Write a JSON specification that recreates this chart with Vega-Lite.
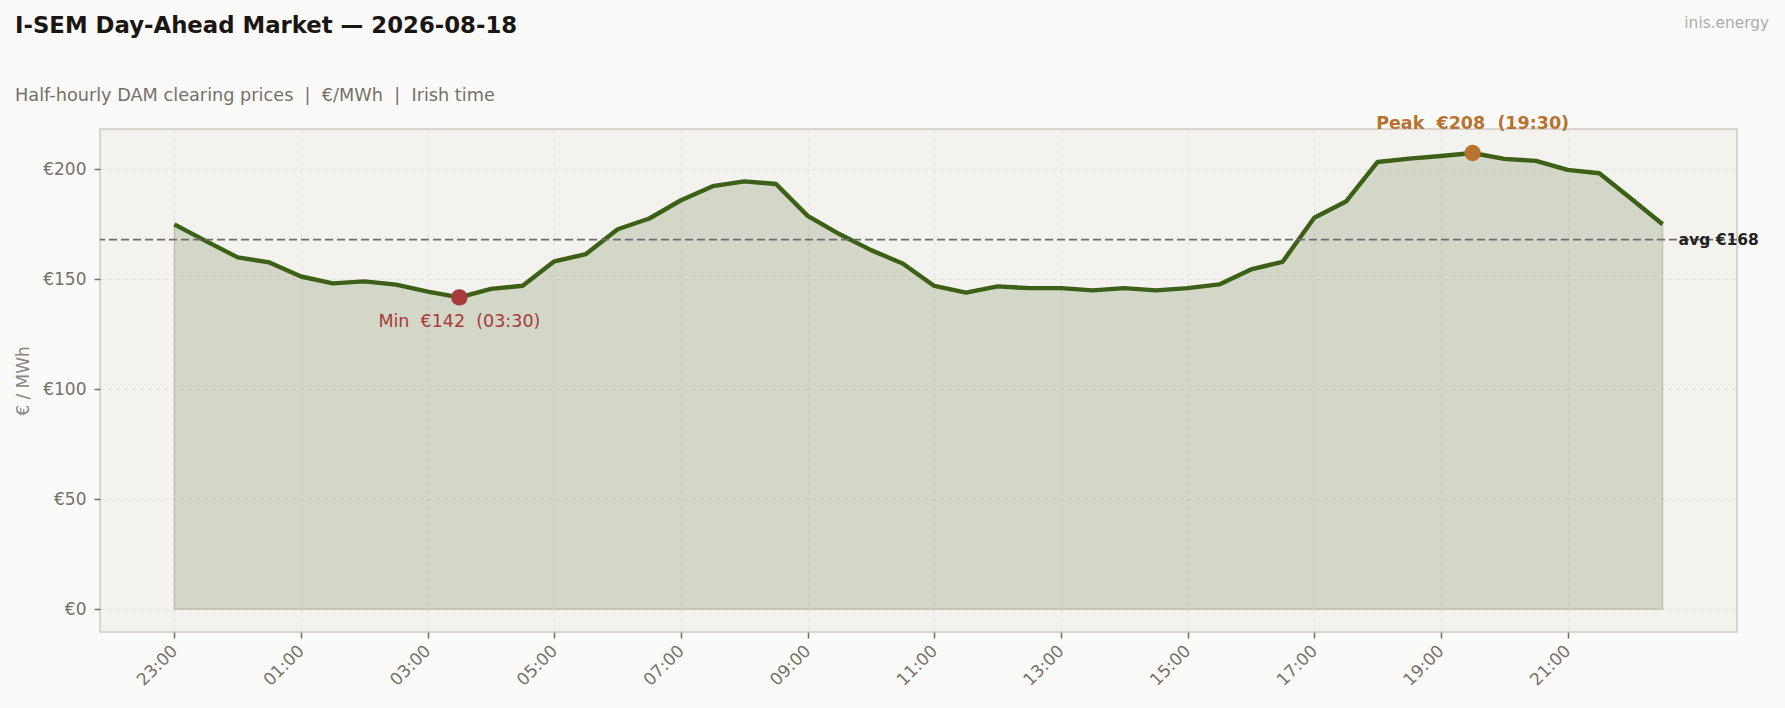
{
  "$schema": "https://vega.github.io/schema/vega-lite/v6.json",
  "autosize": {"type": "none"},
  "padding": {"left": 100, "top": 129, "right": 48, "bottom": 76},
  "width": 1637,
  "height": 503,
  "background": "#fafaf8",
  "title": {
    "text": "I-SEM Day-Ahead Market — 2026-08-18",
    "subtitle": "Half-hourly DAM clearing prices \u00a0| \u00a0€/MWh \u00a0| \u00a0Irish time",
    "anchor": "start",
    "frame": "group",
    "dx": -85,
    "offset": -89,
    "font": "DejaVu Sans",
    "fontSize": 22.8,
    "fontWeight": "bold",
    "color": "#1a1614",
    "subtitleFont": "DejaVu Sans",
    "subtitleFontSize": 17.7,
    "subtitleColor": "#77706a",
    "subtitlePadding": 49
  },
  "datasets": {
    "prices": [
      {"t": "2026-08-17T23:00:00", "price": 175.0},
      {"t": "2026-08-17T23:30:00", "price": 167.4},
      {"t": "2026-08-18T00:00:00", "price": 160.0},
      {"t": "2026-08-18T00:30:00", "price": 157.7},
      {"t": "2026-08-18T01:00:00", "price": 151.3},
      {"t": "2026-08-18T01:30:00", "price": 148.2},
      {"t": "2026-08-18T02:00:00", "price": 149.1},
      {"t": "2026-08-18T02:30:00", "price": 147.6},
      {"t": "2026-08-18T03:00:00", "price": 144.4},
      {"t": "2026-08-18T03:30:00", "price": 141.8},
      {"t": "2026-08-18T04:00:00", "price": 145.7},
      {"t": "2026-08-18T04:30:00", "price": 147.1},
      {"t": "2026-08-18T05:00:00", "price": 158.2},
      {"t": "2026-08-18T05:30:00", "price": 161.5},
      {"t": "2026-08-18T06:00:00", "price": 172.8},
      {"t": "2026-08-18T06:30:00", "price": 177.7},
      {"t": "2026-08-18T07:00:00", "price": 186.0},
      {"t": "2026-08-18T07:30:00", "price": 192.4},
      {"t": "2026-08-18T08:00:00", "price": 194.6},
      {"t": "2026-08-18T08:30:00", "price": 193.4},
      {"t": "2026-08-18T09:00:00", "price": 178.9},
      {"t": "2026-08-18T09:30:00", "price": 170.6},
      {"t": "2026-08-18T10:00:00", "price": 163.3},
      {"t": "2026-08-18T10:30:00", "price": 157.2},
      {"t": "2026-08-18T11:00:00", "price": 147.0},
      {"t": "2026-08-18T11:30:00", "price": 144.0},
      {"t": "2026-08-18T12:00:00", "price": 146.8},
      {"t": "2026-08-18T12:30:00", "price": 146.0},
      {"t": "2026-08-18T13:00:00", "price": 146.0},
      {"t": "2026-08-18T13:30:00", "price": 145.0},
      {"t": "2026-08-18T14:00:00", "price": 146.0},
      {"t": "2026-08-18T14:30:00", "price": 145.0},
      {"t": "2026-08-18T15:00:00", "price": 146.0},
      {"t": "2026-08-18T15:30:00", "price": 147.7},
      {"t": "2026-08-18T16:00:00", "price": 154.5},
      {"t": "2026-08-18T16:30:00", "price": 158.0},
      {"t": "2026-08-18T17:00:00", "price": 178.0},
      {"t": "2026-08-18T17:30:00", "price": 185.4},
      {"t": "2026-08-18T18:00:00", "price": 203.4},
      {"t": "2026-08-18T18:30:00", "price": 204.9},
      {"t": "2026-08-18T19:00:00", "price": 206.1},
      {"t": "2026-08-18T19:30:00", "price": 207.5},
      {"t": "2026-08-18T20:00:00", "price": 204.8},
      {"t": "2026-08-18T20:30:00", "price": 203.9},
      {"t": "2026-08-18T21:00:00", "price": 199.8},
      {"t": "2026-08-18T21:30:00", "price": 198.3},
      {"t": "2026-08-18T22:00:00", "price": 186.8},
      {"t": "2026-08-18T22:30:00", "price": 175.1}
    ],
    "extremes": [
      {"t": "2026-08-18T19:30:00", "price": 207.5, "kind": "peak", "label": "Peak \u00a0€208 \u00a0(19:30)"},
      {"t": "2026-08-18T03:30:00", "price": 141.8, "kind": "min", "label": "Min \u00a0€142 \u00a0(03:30)"}
    ]
  },
  "layer": [
    {
      "data": {"name": "prices"},
      "mark": {"type": "area", "color": "#3b6016", "fillOpacity": 0.18, "stroke": "#3b6016", "strokeOpacity": 0.2, "strokeWidth": 1.5},
      "encoding": {
        "x": {
          "field": "t",
          "type": "temporal",
          "title": null,
          "scale": {
            "domain": [
              {"year": 2026, "month": 8, "date": 17, "hours": 21, "minutes": 49, "seconds": 30},
              {"year": 2026, "month": 8, "date": 18, "hours": 23, "minutes": 40, "seconds": 30}
            ]
          },
          "axis": {
            "format": "%H:%M",
            "values": [
              {"year": 2026, "month": 8, "date": 17, "hours": 23},
              {"year": 2026, "month": 8, "date": 18, "hours": 1},
              {"year": 2026, "month": 8, "date": 18, "hours": 3},
              {"year": 2026, "month": 8, "date": 18, "hours": 5},
              {"year": 2026, "month": 8, "date": 18, "hours": 7},
              {"year": 2026, "month": 8, "date": 18, "hours": 9},
              {"year": 2026, "month": 8, "date": 18, "hours": 11},
              {"year": 2026, "month": 8, "date": 18, "hours": 13},
              {"year": 2026, "month": 8, "date": 18, "hours": 15},
              {"year": 2026, "month": 8, "date": 18, "hours": 17},
              {"year": 2026, "month": 8, "date": 18, "hours": 19},
              {"year": 2026, "month": 8, "date": 18, "hours": 21}
            ],
            "labelAngle": -45,
            "labelAlign": "right",
            "labelBaseline": "middle",
            "labelPadding": 10
          }
        },
        "y": {
          "field": "price",
          "type": "quantitative",
          "title": "€ / MWh",
          "scale": {"domain": [-10.4, 218.4], "nice": false, "zero": false},
          "axis": {
            "values": [0, 50, 100, 150, 200],
            "labelExpr": "'€' + datum.value",
            "labelPadding": 8,
            "titlePadding": 10
          }
        },
        "y2": {"datum": 0}
      }
    },
    {
      "data": {"name": "prices"},
      "mark": {"type": "line", "color": "#3b6016", "strokeWidth": 4.4, "strokeJoin": "round"},
      "encoding": {
        "x": {"field": "t", "type": "temporal"},
        "y": {"field": "price", "type": "quantitative"}
      }
    },
    {
      "data": {"name": "prices"},
      "mark": {"type": "rule", "color": "#6f6d6a", "strokeWidth": 1.8, "strokeDash": [8, 4]},
      "encoding": {
        "y": {"field": "price", "aggregate": "mean", "type": "quantitative"}
      }
    },
    {
      "data": {"name": "prices"},
      "transform": [
        {"aggregate": [{"op": "mean", "field": "price", "as": "avg"}]},
        {"calculate": "'avg €' + format(datum.avg, '.0f')", "as": "avgLabel"}
      ],
      "mark": {"type": "text", "align": "left", "baseline": "middle", "dx": 16, "font": "DejaVu Sans", "fontSize": 15.5, "fontWeight": "bold", "color": "#222222"},
      "encoding": {
        "x": {"datum": {"year": 2026, "month": 8, "date": 18, "hours": 22, "minutes": 30}, "type": "temporal"},
        "y": {"field": "avg", "type": "quantitative"},
        "text": {"field": "avgLabel"}
      }
    },
    {
      "data": {"name": "extremes"},
      "mark": {"type": "circle", "size": 270, "opacity": 1},
      "encoding": {
        "x": {"field": "t", "type": "temporal"},
        "y": {"field": "price", "type": "quantitative"},
        "color": {"field": "kind", "type": "nominal", "scale": {"domain": ["peak", "min"], "range": ["#b8722f", "#a83a3a"]}, "legend": null}
      }
    },
    {
      "data": {"name": "extremes"},
      "transform": [{"filter": "datum.kind === 'peak'"}],
      "mark": {"type": "text", "align": "center", "baseline": "middle", "dy": -29, "font": "DejaVu Sans", "fontSize": 17.5, "fontWeight": "bold", "color": "#b8722f"},
      "encoding": {
        "x": {"field": "t", "type": "temporal"},
        "y": {"field": "price", "type": "quantitative"},
        "text": {"field": "label"}
      }
    },
    {
      "data": {"name": "extremes"},
      "transform": [{"filter": "datum.kind === 'min'"}],
      "mark": {"type": "text", "align": "center", "baseline": "middle", "dy": 25, "font": "DejaVu Sans", "fontSize": 17.5, "color": "#a83a3a"},
      "encoding": {
        "x": {"field": "t", "type": "temporal"},
        "y": {"field": "price", "type": "quantitative"},
        "text": {"field": "label"}
      }
    },
    {
      "data": {"values": [{"brand": "inis.energy"}]},
      "mark": {"type": "text", "align": "right", "baseline": "middle", "font": "DejaVu Sans", "fontSize": 15.4, "color": "#aeaca8"},
      "encoding": {
        "x": {"datum": {"year": 2026, "month": 8, "date": 19, "hours": 0, "minutes": 11}, "type": "temporal"},
        "y": {"datum": 266.7, "type": "quantitative"},
        "text": {"field": "brand"}
      }
    }
  ],
  "config": {
    "font": "DejaVu Sans",
    "view": {"fill": "#f3f2ee", "stroke": "#d0ccc4", "strokeWidth": 1.5},
    "axis": {
      "domain": false,
      "grid": true,
      "gridColor": "#e4e1db",
      "gridDash": [4, 4],
      "gridWidth": 1,
      "ticks": true,
      "tickColor": "#77706a",
      "tickWidth": 1.5,
      "tickSize": 6,
      "labelFont": "DejaVu Sans",
      "labelFontSize": 17,
      "labelColor": "#77706a",
      "titleFont": "DejaVu Sans",
      "titleFontSize": 17,
      "titleFontWeight": "normal",
      "titleColor": "#8a8580"
    }
  }
}
